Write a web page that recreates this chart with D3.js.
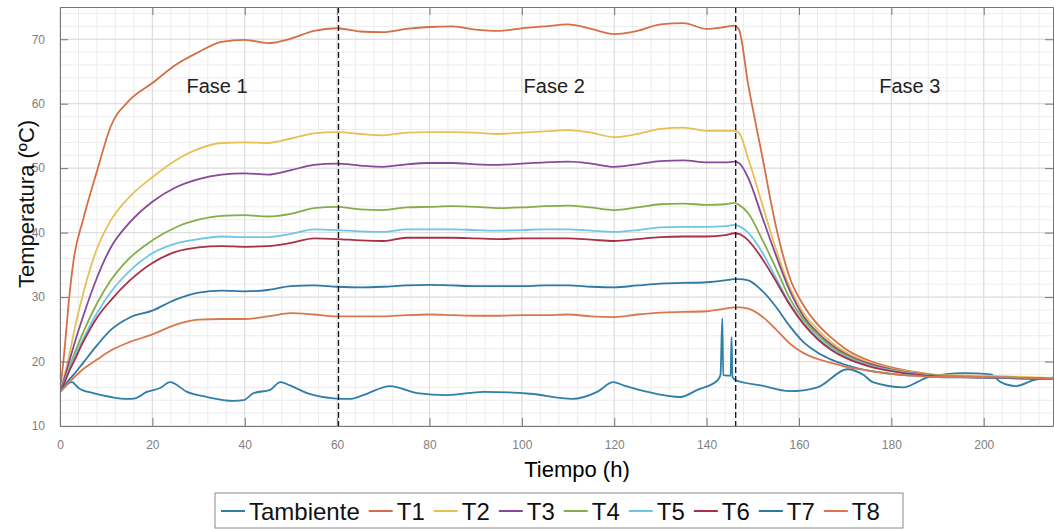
<!DOCTYPE html>
<html>
<head>
<meta charset="utf-8">
<style type="text/css">
	body{ margin:0; background:#fff; }
	text{ font-family: Arial, "Liberation Sans", sans-serif; }
</style>
</head>
<body>
<div id="chart"></div>
<script src="https://d3js.org/d3.v7.min.js"></script>
<script type="text/javascript">
	// time axis (h) shared by T1..T8
	var time = [0, 1, 2, 3, 5, 8, 11, 15, 20, 25, 30, 35, 40, 45, 50, 55, 60,
		65, 70, 75, 80, 85, 90, 95, 100, 105, 110, 115, 120, 125, 130, 135, 140, 144, 146,
		147, 149, 152, 155, 158, 161, 164, 167, 170, 175, 180, 185, 190, 200, 215];

	var T1 = [15.3, 22, 30, 36, 42, 49.5, 56.5, 60.5, 63.2, 66, 68, 69.6, 69.9, 69.4, 70.1, 71.3, 71.7,
		71.2, 71.1, 71.6, 71.9, 72.0, 71.5, 71.3, 71.7, 72.0, 72.3, 71.6, 70.8, 71.3, 72.3, 72.5, 71.6, 71.9, 72.1,
		71.5, 63, 52, 41, 33, 28.7, 25.8, 23.7, 22, 20.2, 19.1, 18.4, 17.9, 17.7, 17.4];
	var T2 = [15.3, 18, 21, 24.5, 30.5, 37.5, 41.9, 45.5, 48.6, 51.2, 53, 53.9, 54, 53.9, 54.6, 55.4, 55.6,
		55.3, 55.1, 55.5, 55.6, 55.6, 55.5, 55.3, 55.5, 55.7, 55.9, 55.5, 54.8, 55.3, 56.1, 56.3, 55.8, 55.8, 55.8,
		55.5, 51.5, 44.5, 37.5, 31.5, 27.5, 25, 23, 21.5, 19.9, 18.9, 18.3, 17.9, 17.8, 17.4];
	var T3 = [15.3, 17.5, 20, 22.5, 27, 33, 37.7, 41.5, 44.8, 47, 48.3, 49, 49.2, 49, 49.7, 50.5, 50.7,
		50.4, 50.2, 50.6, 50.8, 50.8, 50.6, 50.5, 50.7, 50.9, 51.0, 50.7, 50.2, 50.6, 51.1, 51.2, 50.9, 50.9, 51.0,
		50.8, 48.5, 42.5, 36.5, 31, 27, 24.5, 22.6, 21.2, 19.7, 18.8, 18.2, 17.8, 17.6, 17.3];
	var T4 = [15.3, 17, 19, 21, 24.5, 29, 32.6, 36, 38.8, 40.8, 42, 42.6, 42.7, 42.5, 42.9, 43.8, 44,
		43.6, 43.5, 43.9, 44.0, 44.1, 44.0, 43.8, 43.9, 44.1, 44.2, 43.9, 43.5, 43.9, 44.4, 44.5, 44.3, 44.4, 44.6,
		44.3, 43, 39, 34.5, 29.8, 26.5, 24.2, 22.3, 21, 19.5, 18.7, 18.1, 17.8, 17.6, 17.3];
	var T5 = [15.3, 17, 18.8, 20.5, 23.5, 27.5, 30.8, 34, 36.8, 38.3, 39, 39.4, 39.3, 39.3, 39.8, 40.5, 40.4,
		40.2, 40.1, 40.5, 40.5, 40.5, 40.4, 40.3, 40.4, 40.5, 40.5, 40.3, 40.1, 40.4, 40.8, 40.9, 40.9, 41.0, 41.2,
		41, 40, 37, 33, 29, 26, 23.8, 22, 20.8, 19.4, 18.6, 18.1, 17.7, 17.6, 17.3];
	var T6 = [15.3, 16.8, 18.5, 20, 23, 26.8, 29.5, 32.5, 35.3, 37, 37.7, 37.9, 37.8, 37.9, 38.4, 39.1, 39,
		38.8, 38.7, 39.2, 39.2, 39.2, 39.1, 39.0, 39.1, 39.1, 39.1, 38.9, 38.7, 39.0, 39.3, 39.4, 39.4, 39.6, 39.9,
		39.8, 38.8, 36, 32.5, 28.8, 25.8, 23.5, 21.8, 20.6, 19.3, 18.5, 18, 17.7, 17.5, 17.3];
	var T7 = [15.3, 16.3, 17.2, 18, 19.8, 22.5, 24.9, 26.8, 27.9, 29.6, 30.7, 31, 30.9, 31.1, 31.7, 31.8, 31.6,
		31.5, 31.6, 31.8, 31.9, 31.8, 31.7, 31.7, 31.7, 31.8, 31.8, 31.6, 31.5, 31.8, 32.1, 32.2, 32.3, 32.6, 32.8,
		32.8, 32.6, 31, 28.5, 25.5, 23, 21.4, 20.3, 19.5, 18.6, 18.1, 17.8, 17.6, 17.5, 17.3];
	var T8 = [15.3, 16, 16.8, 17.5, 18.8, 20.3, 21.7, 23, 24.2, 25.7, 26.5, 26.6, 26.6, 27, 27.5, 27.3, 27,
		27.0, 27.0, 27.2, 27.3, 27.2, 27.1, 27.1, 27.2, 27.2, 27.3, 27.0, 26.9, 27.3, 27.6, 27.7, 27.8, 28.2, 28.4,
		28.4, 28.2, 27, 25, 22.8, 21.3, 20.4, 19.8, 19.2, 18.6, 18.1, 17.8, 17.6, 17.6, 17.3];

	// ambient temperature has its own time stamps
	var ambTime = [0, 2.6, 4, 7.2, 11, 14.5, 16.3, 18.8, 21.7, 23.8, 27.5, 31.8, 37.6, 39.7, 41.9, 45.5, 47.7, 49.8,
		53.5, 59.2, 62.8, 65.7, 71.5, 77.3, 83.8, 91.7, 101.8, 110.9, 116.3, 119.8, 122, 127.2, 134.3, 138, 142.4,
		143, 143.4, 143.6, 145.2, 145.4, 145.6, 146.3, 151.7, 158, 164, 170.5, 174, 176, 182.7, 185.6, 188,
		195.7, 201.5, 203.7, 207, 210.8, 215];
	var ambTemp = [15.3, 16.8, 15.9, 15.1, 14.5, 14.2, 14.3, 15.3, 15.9, 16.8, 15.3, 14.5, 13.9, 14.0, 15.1, 15.6, 16.8, 16.3,
		15.1, 14.3, 14.2, 14.8, 16.2, 15.1, 14.8, 15.3, 15.0, 14.2, 15.3, 16.8, 16.3, 15.3, 14.5, 15.6, 17.1,
		17.9, 26.7, 17.9, 17.8, 23.8, 17.6, 17.1, 16.3, 15.4, 16.0, 18.8, 17.9, 16.8, 16.0, 16.8, 17.6,
		18.2, 18.0, 16.8, 16.2, 17.1, 17.5];

	var seriesNames = ["Tambiente", "T1", "T2", "T3", "T4", "T5", "T6", "T7", "T8"];
	var seriesColors = ["#2f7fa8", "#d46f46", "#e6bf55", "#864a98", "#85ad48", "#6cc6ea", "#a63149", "#2f7aa5", "#d9784f"];

	var xTicks = [0, 20, 40, 60, 80, 100, 120, 140, 160, 180, 200];
	var yTicks = [10, 20, 30, 40, 50, 60, 70];
	var phaseLines = [60.3, 146.3];
	var phaseNames = ["Fase 1", "Fase 2", "Fase 3"];
	var phaseX = [34, 107, 184];

	var W = 1054, H = 529;
	var margin = {top:7, right:1, bottom:103, left:60},
		width = W - margin.left - margin.right,
		height = H - margin.top - margin.bottom;

	var x = d3.scaleLinear().domain([0, 215]).range([0, width]);
	var y = d3.scaleLinear().domain([10, 75]).range([height, 0]);

	var svg = d3.select("#chart").append("svg")
		.attr("width", W)
		.attr("height", H);

	var g = svg.append("g")
		.attr("transform", "translate(" + margin.left + "," + margin.top + ")");

	g.append("defs").append("clipPath").attr("id", "clip")
		.append("rect").attr("width", width).attr("height", height);

	//minor grid
	g.append("g").selectAll("line")
		.data(d3.range(0, 216, 4))
		.enter().append("line")
		.attr("x1", function(d){ return x(d); }).attr("x2", function(d){ return x(d); })
		.attr("y1", 0).attr("y2", height)
		.style("stroke", "#ececec").style("stroke-width", 1);
	g.append("g").selectAll("line")
		.data(d3.range(10, 75.1, 2))
		.enter().append("line")
		.attr("x1", 0).attr("x2", width)
		.attr("y1", function(d){ return y(d); }).attr("y2", function(d){ return y(d); })
		.style("stroke", "#ececec").style("stroke-width", 1);
	//major grid
	g.append("g").selectAll("line")
		.data(xTicks)
		.enter().append("line")
		.attr("x1", function(d){ return x(d); }).attr("x2", function(d){ return x(d); })
		.attr("y1", 0).attr("y2", height)
		.style("stroke", "#dcdcdc").style("stroke-width", 1);
	g.append("g").selectAll("line")
		.data(yTicks)
		.enter().append("line")
		.attr("x1", 0).attr("x2", width)
		.attr("y1", function(d){ return y(d); }).attr("y2", function(d){ return y(d); })
		.style("stroke", "#dcdcdc").style("stroke-width", 1);

	//series
	var allSeries = [
		ambTime.map(function(t, i){ return [t, ambTemp[i]]; })
	];
	[T1, T2, T3, T4, T5, T6, T7, T8].forEach(function(s){
		allSeries.push(time.map(function(t, i){ return [t, s[i]]; }));
	});

	var smooth = d3.line()
		.x(function(d){ return x(d[0]); })
		.y(function(d){ return y(d[1]); })
		.curve(d3.curveMonotoneX);

	g.append("g").attr("clip-path", "url(#clip)")
		.selectAll("path")
		.data(allSeries)
		.enter().append("path")
		.attr("d", smooth)
		.style("fill", "none")
		.style("stroke", function(d, i){ return seriesColors[i]; })
		.style("stroke-width", 1.8)
		.style("stroke-linejoin", "round");

	//phase dividers
	g.selectAll(".phase")
		.data(phaseLines)
		.enter().append("line")
		.attr("class", "phase")
		.attr("x1", function(d){ return x(d); }).attr("x2", function(d){ return x(d); })
		.attr("y1", 0).attr("y2", height)
		.style("stroke", "#111").style("stroke-width", 1.3)
		.style("stroke-dasharray", "6,3");

	g.selectAll(".phaseLabel")
		.data(phaseNames)
		.enter().append("text")
		.attr("class", "phaseLabel")
		.attr("x", function(d, i){ return x(phaseX[i]); })
		.attr("y", 79)
		.attr("dy", "0.35em")
		.attr("text-anchor", "middle")
		.style("font-size", "20px")
		.style("fill", "#222")
		.text(function(d){ return d; });

	//axes, MATLAB style box with inward ticks
	var axisStyle = function(sel){
		sel.select(".domain").style("stroke", "#777");
		sel.selectAll(".tick line").style("stroke", "#777");
		sel.selectAll(".tick text").style("fill", "#808080").style("font-size", "12px");
	};
	g.append("g").attr("transform", "translate(0," + height + ")")
		.call(d3.axisBottom(x).tickValues(xTicks).tickSizeInner(-8).tickSizeOuter(0).tickPadding(14))
		.call(axisStyle);
	g.append("g")
		.call(d3.axisTop(x).tickValues(xTicks).tickSizeInner(-8).tickSizeOuter(0).tickFormat(""))
		.call(axisStyle);
	g.append("g")
		.call(d3.axisLeft(y).tickValues(yTicks).tickSizeInner(-8).tickSizeOuter(0).tickPadding(15))
		.call(axisStyle);
	g.append("g").attr("transform", "translate(" + width + ",0)")
		.call(d3.axisRight(y).tickValues(yTicks).tickSizeInner(-8).tickSizeOuter(0).tickFormat(""))
		.call(axisStyle);

	//axis labels
	svg.append("text")
		.attr("x", 577).attr("y", 469)
		.attr("dy", "0.35em")
		.attr("text-anchor", "middle")
		.style("font-size", "22px")
		.style("fill", "#000")
		.text("Tiempo (h)");
	svg.append("text")
		.attr("transform", "translate(26,204) rotate(-90)")
		.attr("dy", "0.35em")
		.attr("text-anchor", "middle")
		.style("font-size", "22px")
		.style("fill", "#111")
		.text("Temperatura (ºC)");

	//legend
	var legend = svg.append("g");
	legend.append("rect")
		.attr("x", 215).attr("y", 493)
		.attr("width", 688).attr("height", 35)
		.style("fill", "#fff").style("stroke", "#8a8a8a").style("stroke-width", 1);

	var cx = 221;
	seriesNames.forEach(function(name, i){
		legend.append("line")
			.attr("x1", cx).attr("x2", cx + 24)
			.attr("y1", 511).attr("y2", 511)
			.style("stroke", seriesColors[i]).style("stroke-width", 2);
		var t = legend.append("text")
			.attr("x", cx + 28).attr("y", 511)
			.attr("dy", "0.36em")
			.style("font-size", "24px")
			.style("fill", "#111")
			.text(name);
		cx += 28 + t.node().getComputedTextLength() + 9;
	});
</script>
</body>
</html>
